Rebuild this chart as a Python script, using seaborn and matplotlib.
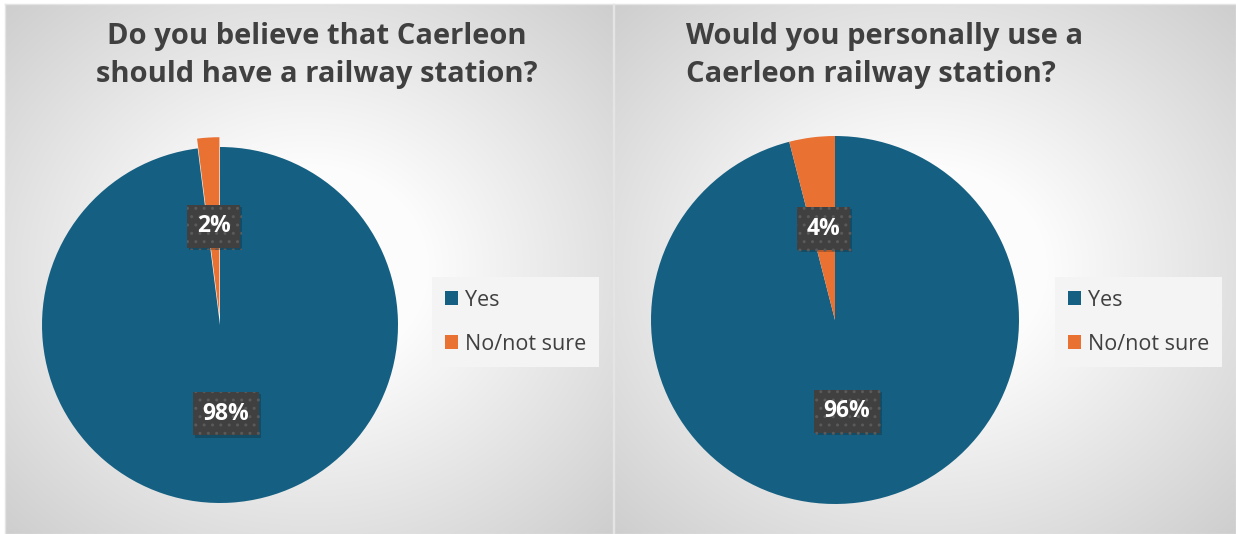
import numpy as np
import matplotlib
matplotlib.use("Agg")
import matplotlib.pyplot as plt
import seaborn as sns
from matplotlib import patheffects as pe

# Survey answers (percent of respondents)
answers = ["Yes", "No/not sure"]
believe_pct = [98, 2]
would_use_pct = [96, 4]
believe_title = ["Do you believe that Caerleon", "should have a railway station?"]
would_use_title = ["Would you personally use a", "Caerleon railway station?"]

sns.set_theme(style="white")
plt.rcParams["font.family"] = ["Open Sans", "DejaVu Sans"]
palette = sns.color_palette(["#156082", "#E97132"])
TEXT = "#404040"

W, H = 1236, 534
fig = plt.figure(figsize=(W / 100, H / 100), dpi=100)
fig.patch.set_facecolor("white")


def px_box(x0, y0, x1, y1):
    return [x0 / W, 1 - y1 / H, (x1 - x0) / W, (y1 - y0) / H]


def panel_background(x0, y0, x1, y1):
    ax = fig.add_axes(px_box(x0, y0, x1, y1))
    w, h = int(x1 - x0), int(y1 - y0)
    xx, yy = np.meshgrid(np.linspace(-1, 1, w), np.linspace(-1, 1, h))
    r = np.sqrt(xx ** 2 + yy ** 2) / np.sqrt(2)
    t = np.clip((r - 0.28) / (1 - 0.28), 0, 1)
    v = (252 - 46 * t) / 255
    ax.imshow(np.dstack([v, v, v]), extent=(0, 1, 0, 1), aspect="auto",
              interpolation="bilinear")
    ax.set_xlim(0, 1)
    ax.set_ylim(0, 1)
    ax.set_xticks([])
    ax.set_yticks([])
    for s in ax.spines.values():
        s.set_color("#e4e4e4")
        s.set_linewidth(1)
    return ax


def draw_pie(cx, cy, r, values, explode, title_lines, title_x, title_ha, leg_x, leg_y):
    lim = 1.12
    R = r * lim
    ax = fig.add_axes(px_box(cx - R, cy - R, cx + R, cy + R))
    ax.patch.set_alpha(0)
    wedges, _, autotexts = ax.pie(
        values, colors=palette, startangle=90, counterclock=False,
        explode=explode, autopct=lambda p: f"{p:.0f}%", pctdistance=0.5,
        wedgeprops=dict(linewidth=0),
        textprops=dict(color="white", fontsize=16.5, fontweight="bold"),
    )
    ax.set_xlim(-lim, lim)
    ax.set_ylim(-lim, lim)
    for t in autotexts:
        t.set_bbox(dict(boxstyle="square,pad=0.42", facecolor="#404040",
                        edgecolor="#5a5a5a", linewidth=0, hatch=".."))
        t.get_bbox_patch().set_path_effects(
            [pe.SimplePatchShadow(offset=(1.5, -1.5), alpha=0.25), pe.Normal()])

    for i, line in enumerate(title_lines):
        fig.text(title_x / W, 1 - (44 + 38 * i) / H, line, ha=title_ha,
                 va="baseline", fontsize=21, fontweight="bold", color=TEXT)

    fig.legend(
        wedges, answers, loc="upper left",
        bbox_to_anchor=(leg_x / W, 1 - leg_y / H),
        bbox_transform=fig.transFigure, frameon=True, fancybox=False,
        facecolor="#f4f4f4", edgecolor="none", framealpha=1,
        fontsize=15.5, labelcolor=TEXT, handlelength=0.62, handleheight=0.62,
        handletextpad=0.3, labelspacing=1.05, borderpad=0.6,
        borderaxespad=0,
    )
    return ax


panel_background(5, 4, 613, 534)
panel_background(614, 4, 1236, 534)

draw_pie(220, 325, 178, believe_pct, [0, 0.055], believe_title, 317, "center",
         432, 277)
draw_pie(835, 320, 184, would_use_pct, [0, 0], would_use_title, 686, "left",
         1055, 277)

fig.savefig("out.png", dpi=100)
